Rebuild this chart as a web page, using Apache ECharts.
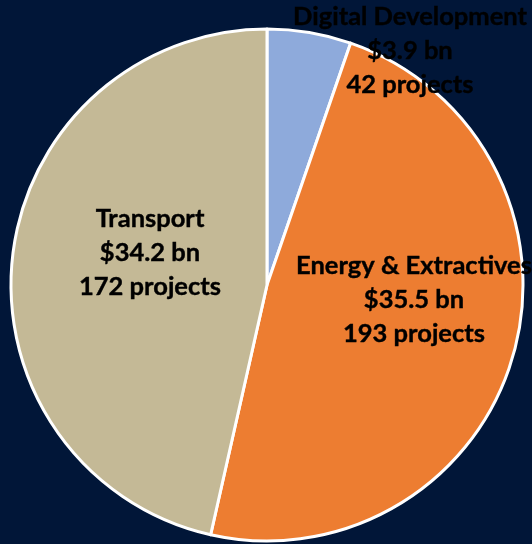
<!DOCTYPE html>
<html>
<head>
<meta charset="utf-8">
<script src="https://cdn.jsdelivr.net/npm/echarts@6/dist/echarts.min.js"></script>
<style>
  html, body { margin: 0; padding: 0; background: #011638; }
  #chart { width: 532px; height: 544px; }
</style>
</head>
<body>
<div id="chart"></div>
<script>
// sectors, clockwise from 12 o'clock
const sectors = ['Digital Development', 'Energy & Extractives', 'Transport'];
const amounts = [3.9, 35.5, 34.2];      // $ bn
const projects = [42, 193, 172];
const colors = ['#8eaadb', '#ed7d31', '#c4b996'];

// label centres (px) - labels are placed by hand like in the original
const labelPos = [[410, 51], [414, 300], [150, 253]];

const chart = echarts.init(document.getElementById('chart'));

const option = {
  backgroundColor: '#011638',
  animation: false,
  series: [
    {
      type: 'pie',
      center: [267, 285],
      radius: [0, 256],
      startAngle: 90,
      clockwise: true,
      data: sectors.map((name, i) => ({
        name: name,
        value: amounts[i],
        itemStyle: { color: colors[i] }
      })),
      itemStyle: { borderColor: '#ffffff', borderWidth: 3 },
      label: {
        show: true,
        position: 'inside',
        color: '#000',
        fontFamily: 'Lato',
        fontWeight: 'bold',
        fontSize: 25.5,
        lineHeight: 34,
        align: 'center',
        textBorderColor: '#000',
        textBorderWidth: 0.4,
        formatter: p => p.name + '\n$' + amounts[p.dataIndex] + ' bn\n' + projects[p.dataIndex] + ' projects'
      },
      labelLine: { show: false },
      labelLayout: p => ({
        x: labelPos[p.dataIndex][0],
        y: labelPos[p.dataIndex][1],
        align: 'center',
        verticalAlign: 'middle'
      })
    }
  ]
};

chart.setOption(option);
</script>
</body>
</html>
